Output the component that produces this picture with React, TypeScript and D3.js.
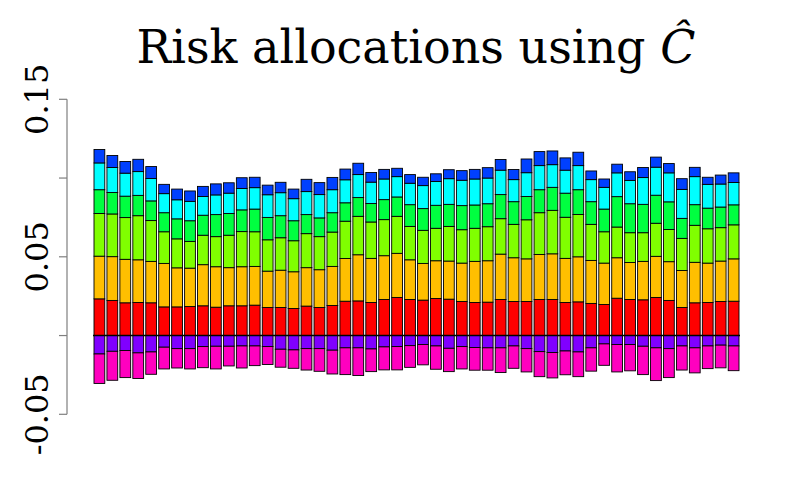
import { useRef, useEffect } from 'react'
import * as d3 from 'd3'

const W = 800
const H = 500

// allocation per asset (50 dates), positive parts stacked upward
const red = [.0233, .0223, .0208, .0210, .0208, .0182, .0182, .0184, .0189, .0180,
  .0189, .0189, .0193, .0178, .0178, .0172, .0187, .0178, .0191, .0218,
  .0220, .0210, .0229, .0242, .0229, .0225, .0235, .0231, .0216, .0210,
  .0212, .0229, .0216, .0216, .0229, .0229, .0210, .0214, .0204, .0197,
  .0237, .0229, .0227, .0242, .0223, .0178, .0208, .0210, .0216, .0218]
const orange = [.0271, .0278, .0276, .0271, .0263, .0276, .0248, .0244, .0261, .0257,
  .0242, .0248, .0246, .0231, .0237, .0233, .0244, .0240, .0248, .0271,
  .0293, .0280, .0278, .0280, .0252, .0233, .0240, .0242, .0244, .0261,
  .0263, .0288, .0278, .0271, .0286, .0290, .0280, .0286, .0273, .0263,
  .0257, .0235, .0244, .0261, .0246, .0235, .0257, .0250, .0257, .0269]
const lime = [.0271, .0271, .0265, .0280, .0259, .0201, .0184, .0170, .0187, .0191,
  .0206, .0223, .0220, .0199, .0206, .0197, .0216, .0210, .0218, .0237,
  .0244, .0231, .0229, .0235, .0212, .0210, .0206, .0220, .0212, .0210,
  .0216, .0225, .0212, .0248, .0265, .0276, .0261, .0269, .0229, .0199,
  .0195, .0189, .0182, .0210, .0204, .0204, .0235, .0218, .0212, .0216]
const green = [.0151, .0136, .0136, .0129, .0125, .0121, .0127, .0131, .0127, .0140,
  .0138, .0138, .0144, .0142, .0140, .0127, .0121, .0119, .0123, .0117,
  .0119, .0117, .0127, .0123, .0138, .0138, .0146, .0140, .0153, .0148,
  .0146, .0153, .0144, .0148, .0146, .0146, .0153, .0157, .0144, .0144,
  .0193, .0184, .0180, .0178, .0176, .0127, .0131, .0131, .0131, .0127]
const cyan = [.0170, .0159, .0146, .0151, .0142, .0121, .0121, .0123, .0119, .0125,
  .0129, .0136, .0136, .0144, .0146, .0140, .0146, .0148, .0146, .0146,
  .0146, .0136, .0131, .0129, .0136, .0146, .0151, .0163, .0161, .0165,
  .0163, .0155, .0140, .0151, .0153, .0144, .0146, .0153, .0140, .0138,
  .0151, .0148, .0170, .0178, .0184, .0184, .0178, .0151, .0146, .0142]
const blue = [.0085, .0076, .0074, .0078, .0076, .0059, .0068, .0066, .0064, .0070,
  .0066, .0068, .0066, .0061, .0066, .0061, .0078, .0076, .0078, .0068,
  .0072, .0061, .0061, .0053, .0055, .0053, .0049, .0057, .0061, .0061,
  .0066, .0068, .0064, .0087, .0089, .0087, .0078, .0085, .0055, .0053,
  .0055, .0055, .0064, .0064, .0059, .0068, .0059, .0045, .0057, .0061]
// negative parts stacked downward
const purple = [-.0117, -.0100, -.0095, -.0110, -.0104, -.0074, -.0083, -.0083, -.0070, -.0068,
  -.0068, -.0066, -.0066, -.0070, -.0087, -.0091, -.0083, -.0083, -.0093, -.0078,
  -.0078, -.0085, -.0072, -.0070, -.0064, -.0057, -.0066, -.0081, -.0070, -.0076,
  -.0078, -.0078, -.0066, -.0083, -.0102, -.0108, -.0098, -.0104, -.0078, -.0053,
  -.0057, -.0057, -.0068, -.0078, -.0083, -.0066, -.0078, -.0066, -.0061, -.0066]
const magenta = [-.0187, -.0184, -.0172, -.0163, -.0142, -.0138, -.0123, -.0129, -.0134, -.0144,
  -.0125, -.0140, -.0125, -.0114, -.0114, -.0117, -.0136, -.0144, -.0151, -.0170,
  -.0176, -.0144, -.0146, -.0148, -.0138, -.0129, -.0148, -.0148, -.0142, -.0144,
  -.0142, -.0157, -.0142, -.0148, -.0159, -.0161, -.0151, -.0157, -.0148, -.0136,
  -.0174, -.0167, -.0180, -.0208, -.0184, -.0153, -.0159, -.0144, -.0144, -.0157]

const SERIES = [red, orange, lime, green, cyan, blue, purple, magenta]
const COLORS = ['#FF0000', '#FFBF00', '#80FF00', '#00FF40', '#00FFFF', '#0040FF', '#8000FF', '#FF00BF']
const Y_TICKS = [-0.05, 0, 0.05, 0.1, 0.15]
const Y_LABELS = ['-0.05', '', '0.05', '', '0.15']

const FONT = 'DejaVu Serif, Liberation Serif, Times New Roman, serif'

export default function App() {
  const svgRef = useRef<SVGSVGElement>(null)

  useEffect(() => {
    const svg = d3.select(svgRef.current)
    svg.selectAll('*').remove()

    const idx = d3.range(red.length)
    const x = d3.scaleBand<number>().domain(idx).range([94, 739]).paddingInner(0.2 / 1.2).paddingOuter(0)
    const y = d3.scaleLinear().domain([-0.05, 0.15]).range([414.3, 99.3])

    // stacked segments: positive upward, negative downward
    const rows = idx.map(i => SERIES.map(s => s[i]))
    const stack = d3.stack<number[], number>()
      .keys(d3.range(SERIES.length))
      .value((d, k) => d[k])
      .offset(d3.stackOffsetDiverging)
    const layers = stack(rows)

    const g = svg.append('g')
    layers.forEach((layer, k) => {
      g.append('g').selectAll('rect').data(layer).join('rect')
        .attr('x', (_d, i) => x(i)!)
        .attr('width', x.bandwidth())
        .attr('y', d => y(Math.max(d[0], d[1])))
        .attr('height', d => Math.abs(y(d[0]) - y(d[1])))
        .attr('fill', COLORS[k])
        .attr('stroke', '#000')
        .attr('stroke-width', 0.9)
    })

    // zero line across the bars
    svg.append('line')
      .attr('x1', 93).attr('x2', 740)
      .attr('y1', y(0)).attr('y2', y(0))
      .attr('stroke', '#000').attr('stroke-width', 1.6)

    // y axis
    const ax = svg.append('g')
    ax.append('line')
      .attr('x1', 67).attr('x2', 67)
      .attr('y1', y(0.15)).attr('y2', y(-0.05))
      .attr('stroke', '#7f7f7f').attr('stroke-width', 1.2)
    Y_TICKS.forEach((t, i) => {
      ax.append('line')
        .attr('x1', 59).attr('x2', 67)
        .attr('y1', y(t)).attr('y2', y(t))
        .attr('stroke', '#7f7f7f').attr('stroke-width', 1.2)
      if (Y_LABELS[i]) {
        ax.append('text')
          .attr('transform', `translate(48,${y(t)}) rotate(-90)`)
          .attr('text-anchor', 'middle')
          .style('font-family', FONT)
          .attr('font-size', 32)
          .attr('fill', '#000')
          .text(Y_LABELS[i])
      }
    })

    // title
    const title = svg.append('text')
      .attr('x', 416).attr('y', 63)
      .attr('text-anchor', 'middle')
      .style('font-family', FONT)
      .attr('font-size', 46)
      .attr('fill', '#000')
    title.append('tspan').text('Risk allocations using ')
    title.append('tspan').attr('font-style', 'italic').text('Ĉ')
  }, [])

  return (
    <svg ref={svgRef} width={W} height={H}
      style={{ position: 'absolute', left: 0, top: 0, background: '#fff' }} />
  )
}
